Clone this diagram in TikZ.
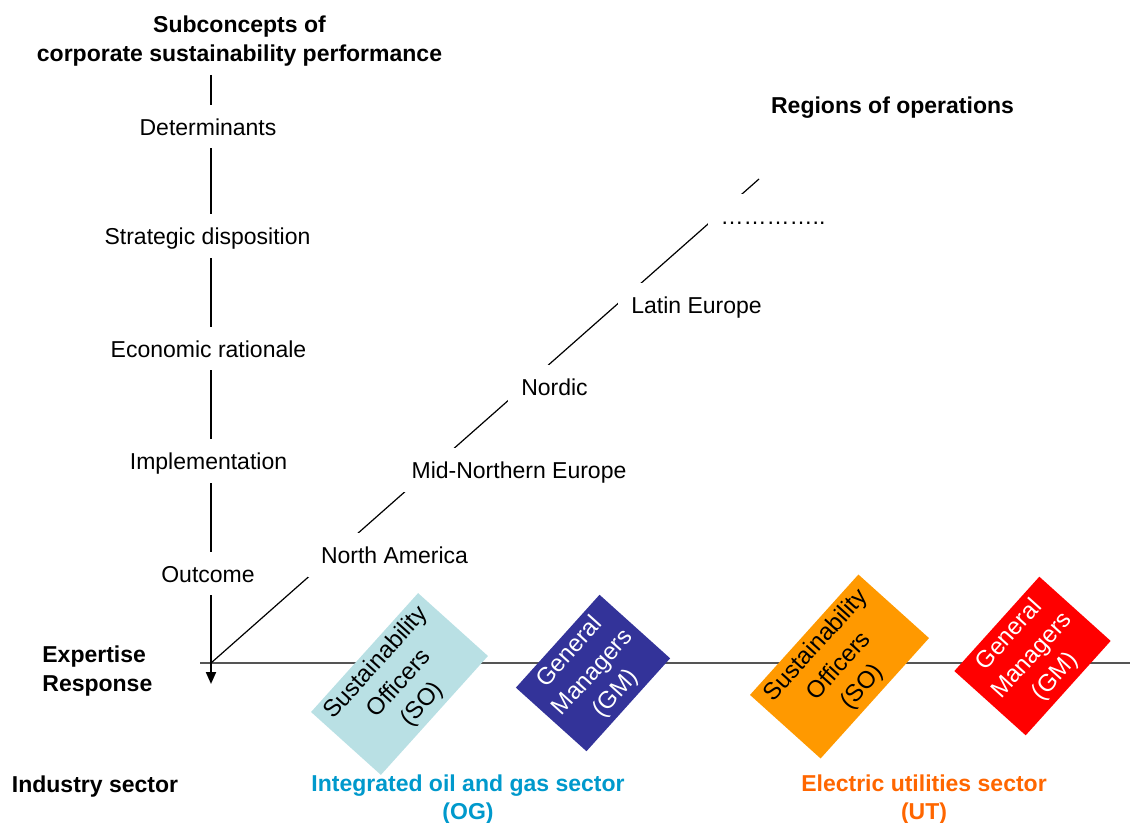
\documentclass[tikz,border=0pt]{standalone}
\usepackage{fontspec}
\setmainfont{Liberation Sans}
\usetikzlibrary{arrows.meta}

\definecolor{soblue}{RGB}{185,224,228}
\definecolor{gmblue}{RGB}{51,51,153}
\definecolor{soorange}{RGB}{255,153,0}
\definecolor{gmred}{RGB}{255,0,0}
\definecolor{ogtext}{RGB}{0,153,204}
\definecolor{uttext}{RGB}{255,102,0}
\definecolor{axisgray}{RGB}{85,85,85}

\begin{document}
\begin{tikzpicture}[x=0.5pt,y=-0.5pt,
  heading/.style={font=\fontsize{11.5pt}{14.5pt}\selectfont\bfseries, align=center, inner sep=0pt},
  sector/.style={font=\fontsize{11.5pt}{14pt}\selectfont\bfseries, align=center, inner sep=0pt},
  axislabel/.style={font=\fontsize{11.5pt}{14.5pt}\selectfont, fill=white,
    inner xsep=6.5pt, inner ysep=5.5pt, text height=9.75pt, text depth=0.9pt},
  rolebox/.style={rotate=48, align=center, inner sep=0pt,
    font=\fontsize{12pt}{15.5pt}\selectfont},
  axisline/.style={line width=1pt, black},
  baseline/.style={line width=1pt, axisgray},
  regionline/.style={line width=0.6pt, black},
]
\useasboundingbox (0,0) rectangle (1130,823);

% axes
\coordinate (origin) at (211,663);
\coordinate (ytop) at (211,75);
\coordinate (ybottom) at (211,684);
\coordinate (xleft) at (200,663);
\coordinate (xright) at (1130,663);
\coordinate (zend) at (759,179);

\draw[baseline] (xleft) -- (xright);
\draw[axisline, -{Triangle[width=5pt,length=6pt]}] (ytop) -- (ybottom);
\draw[regionline] (origin) -- (zend);

% headings
\node[heading] (subconcepts) at (239.5,41) {Subconcepts of\\corporate sustainability performance};
\node[heading] (regions) at (892.5,108) {Regions of operations};
\node[heading, align=left, anchor=west] (expertise) at (42,671) {Expertise\\Response};
\node[heading] (industry) at (95,787) {Industry sector};
\node[sector, text=ogtext] (og) at (468,800) {Integrated oil and gas sector\\(OG)};
\node[sector, text=uttext] (ut) at (924,800) {Electric utilities sector\\(UT)};

% subconcepts along the vertical axis
\node[axislabel] (determinants) at (208,126.5) {Determinants};
\node[axislabel] (strategic) at (207.5,236) {Strategic disposition};
\node[axislabel] (economic) at (208.5,348.5) {Economic rationale};
\node[axislabel] (implementation) at (208.5,461) {Implementation};
\node[axislabel] (outcome) at (208,573.5) {Outcome};

% regions along the diagonal axis
\node[axislabel] (northamerica) at (394.5,555) {North America};
\node[axislabel] (midnorthern) at (519,470) {Mid-Northern Europe};
\node[axislabel] (nordic) at (554.5,387) {Nordic};
\node[axislabel] (latin) at (696.5,305) {Latin Europe};
\node[axislabel] (more) at (773,216) {…………..};

% expertise groups per sector
\node[rolebox, fill=soblue, minimum width=80pt, minimum height=47pt, text=black]
  (ogso) at (399.5,684) {Sustainability\\Officers\\(SO)};
\node[rolebox, fill=gmblue, minimum width=62.5pt, minimum height=47.5pt, text=white]
  (oggm) at (593,673) {General\\Managers\\(GM)};
\node[rolebox, fill=soorange, minimum width=81pt, minimum height=47.5pt, text=black]
  (utso) at (839.5,666.5) {Sustainability\\Officers\\(SO)};
\node[rolebox, fill=gmred, minimum width=63.5pt, minimum height=48pt, text=white]
  (utgm) at (1032.5,656) {General\\Managers\\(GM)};
\end{tikzpicture}
\end{document}
